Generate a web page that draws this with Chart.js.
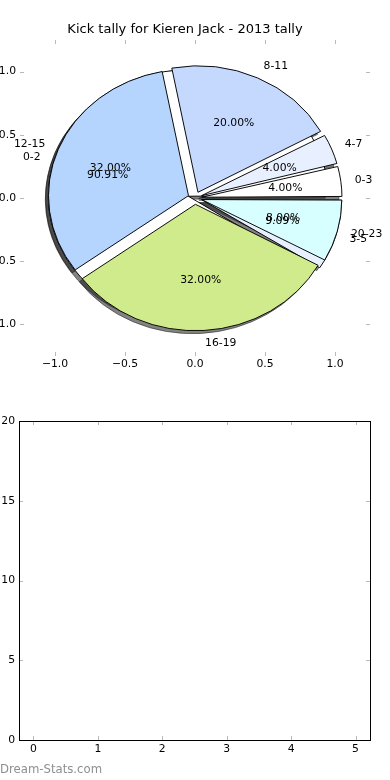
<!DOCTYPE html>
<html>
<head>
<meta charset="utf-8">
<script src="https://cdn.jsdelivr.net/npm/chart.js@4/dist/chart.umd.min.js"></script>
<style>
  html, body { margin: 0; padding: 0; background: #ffffff; }
  #wrap { position: relative; width: 390px; height: 780px; overflow: hidden; background: #fff; }
  #pieBack, #pieFront { position: absolute; left: 0; top: 0; }
  #bottom { position: absolute; left: 0; top: 400px; }
  #wm { position: absolute; left: 0; top: 762px; font: 11.7px "DejaVu Sans", sans-serif; color: #8f8f8f; white-space: nowrap; }
</style>
</head>
<body>
<div id="wrap">
  <canvas id="pieBack" width="390" height="400"></canvas>
  <canvas id="pieFront" width="390" height="400"></canvas>
  <canvas id="bottom" width="390" height="380"></canvas>
  <div id="wm">Dream-Stats.com</div>
</div>
<script>
// ---------------- data ----------------
const chartTitle = 'Kick tally for Kieren Jack - 2013 tally';
const tallyLabels = ['0-3', '4-7', '8-11', '12-15', '16-19', '20-23'];
const tallyValues = [1, 1, 5, 8, 8, 2];            // 4%, 4%, 20%, 32%, 32%, 8%
const tallyColors = ['#ffffff', '#e8f0ff', '#c5d9ff', '#b5d5ff', '#d0eb8c', '#d8ffff'];
const overlayLabels = ['0-2', '3-5'];
const overlayValues = [10, 1];                     // 90.91%, 9.09%
const overlayColors = ['#ffffff', '#e8f0ff'];
const pieTicks = [-1.0, -0.5, 0.0, 0.5, 1.0];
const barXTicks = [0, 1, 2, 3, 4, 5];
const barYTicks = [0, 5, 10, 15, 20];

// ---------------- layout / style ----------------
const FONT = '"DejaVu Sans", sans-serif';
const TICK_FONT = { family: FONT, size: 10.8 };
const PIE_MIN = -1.25, PIE_MAX = 1.25;
const PIE_AREA_W = 350;                       // chart area width in px
const R = PIE_AREA_W / (PIE_MAX - PIE_MIN);   // px per pie unit (radius 1)
const EXPLODE = 0.05;                         // explode distance in pie units
const OFFSET_OPT = EXPLODE * R * 4;           // Chart.js arc offset (drawn as offset/4)
const TICK_GRAY = '#b8b8b8';
const SHADOW_FAR = 10000;

function fmtPie(v) {
  return (v < 0 ? '\u2212' : '') + Math.abs(v).toFixed(1);
}

function yScaleRatio(chart) {
  const xs = chart.scales.x, ys = chart.scales.y;
  return (ys.getPixelForValue(0) - ys.getPixelForValue(1)) /
         (xs.getPixelForValue(1) - xs.getPixelForValue(0));
}

// Keep every slice at the nominal radius (Chart.js grows small exploded slices).
const radiusFix = {
  id: 'radiusFix',
  afterDatasetUpdate(chart, args) {
    const meta = chart.getDatasetMeta(args.index);
    const t = OFFSET_OPT / 4;
    meta.data.forEach(el => {
      const fix = 1 - Math.sin(Math.min(Math.PI, el.circumference || 0));
      el.outerRadius = R - t * fix;
    });
  }
};

function applyPieTransform(ctx, el, sy) {
  ctx.translate(el.x, el.y);
  ctx.scale(1, -sy);
  ctx.translate(-el.x, -el.y);
}

let frontChart = null;
let backChart = null;

// Elliptical, counter-clockwise pie (like the data-space pie).
// The back chart also paints the drop shadows of both pies, beneath every wedge.
const pieTransform = {
  id: 'pieTransform',
  beforeDatasetsDraw(chart, args, opts) {
    const meta = chart.getDatasetMeta(0);
    const el0 = meta.data[0];
    if (!el0) return;
    const sy = yScaleRatio(chart);
    const ctx = chart.ctx;
    if (opts.shadows) {
      const sets = [meta.data];
      if (frontChart) sets.push(frontChart.getDatasetMeta(0).data);
      ctx.save();
      ctx.translate(SHADOW_FAR, 0);
      applyPieTransform(ctx, el0, sy);
      ctx.shadowColor = 'rgba(30,30,30,0.55)';
      ctx.shadowOffsetX = -SHADOW_FAR - 3;
      ctx.shadowOffsetY = 3;
      ctx.shadowBlur = 0;
      sets.forEach(d => d.forEach(el => el.draw(ctx)));
      ctx.restore();
    }
    ctx.save();
    applyPieTransform(ctx, el0, sy);
  },
  afterDatasetsDraw(chart) {
    chart.ctx.restore();
  }
};

function drawInwardTicks(chart, xVals, yVals, color) {
  const ctx = chart.ctx, a = chart.chartArea;
  const xs = chart.scales.x, ys = chart.scales.y;
  ctx.save();
  ctx.strokeStyle = color;
  ctx.lineWidth = 1;
  ctx.beginPath();
  xVals.forEach(v => {
    const px = Math.round(xs.getPixelForValue(v)) + 0.5;
    ctx.moveTo(px, a.top); ctx.lineTo(px, a.top + 4);
    ctx.moveTo(px, a.bottom); ctx.lineTo(px, a.bottom - 4);
  });
  yVals.forEach(v => {
    const py = Math.round(ys.getPixelForValue(v)) + 0.5;
    ctx.moveTo(a.left, py); ctx.lineTo(a.left + 4, py);
    ctx.moveTo(a.right, py); ctx.lineTo(a.right - 4, py);
  });
  ctx.stroke();
  ctx.restore();
}

const pieTicksPlugin = {
  id: 'pieTicksPlugin',
  afterDraw(chart) { drawInwardTicks(chart, pieTicks, pieTicks, TICK_GRAY); }
};

function drawPieTexts(chart, meta, labels, values) {
  const ctx = chart.ctx;
  const sy = yScaleRatio(chart);
  const total = values.reduce((a, b) => a + b, 0);
  const t = OFFSET_OPT / 4;
  ctx.save();
  ctx.font = '10.8px ' + FONT;
  ctx.fillStyle = '#000';
  ctx.textBaseline = 'middle';
  meta.data.forEach((el, i) => {
    const mid = (el.startAngle + el.endAngle) / 2;
    const at = k => ({
      x: el.x + Math.cos(mid) * (t + k * R),
      y: el.y - Math.sin(mid) * (t + k * R) * sy
    });
    const lp = at(1.1);
    ctx.textAlign = lp.x > el.x ? 'left' : 'right';
    ctx.fillText(labels[i], lp.x, lp.y);
    const pp = at(0.6);
    ctx.textAlign = 'center';
    ctx.fillText((values[i] / total * 100).toFixed(2) + '%', pp.x, pp.y);
  });
  ctx.restore();
}

const pieTexts = {
  id: 'pieTexts',
  afterDraw(chart) {
    drawPieTexts(chart, chart.getDatasetMeta(0), tallyLabels, tallyValues);
    if (backChart) {
      drawPieTexts(chart, backChart.getDatasetMeta(0), overlayLabels, overlayValues);
    }
  }
};

function pieConfig(labels, values, colors, front) {
  const textColor = front ? '#000' : 'rgba(0,0,0,0)';
  return {
    type: 'pie',
    data: {
      labels: labels,
      datasets: [{
        data: values,
        backgroundColor: colors,
        borderColor: '#000',
        borderWidth: 1,
        offset: OFFSET_OPT,
        hoverOffset: OFFSET_OPT
      }]
    },
    options: {
      responsive: false,
      animation: false,
      events: [],
      rotation: 90,
      radius: R,
      layout: { padding: { left: 0, right: 20, top: 0, bottom: 0 } },
      plugins: {
        legend: { display: false },
        tooltip: { enabled: false },
        pieTransform: { shadows: !front },
        title: {
          display: true,
          text: chartTitle,
          color: textColor,
          font: { family: FONT, size: 13, weight: 'normal', lineHeight: 1.2 },
          padding: { top: 22, bottom: 2.4 }
        }
      },
      scales: {
        x: {
          type: 'linear', position: 'bottom', min: PIE_MIN, max: PIE_MAX,
          afterBuildTicks: s => { s.ticks = pieTicks.map(v => ({ value: v })); },
          afterFit: s => { s.height = 44; },
          grid: { display: false, drawTicks: false },
          border: { display: false },
          ticks: { color: textColor, font: TICK_FONT, padding: 2, maxRotation: 0, callback: v => fmtPie(v) }
        },
        y: {
          type: 'linear', position: 'left', min: PIE_MIN, max: PIE_MAX,
          afterBuildTicks: s => { s.ticks = pieTicks.map(v => ({ value: v })); },
          afterFit: s => { s.width = 20; },
          grid: { display: false, drawTicks: false },
          border: { display: false },
          ticks: { color: textColor, font: TICK_FONT, padding: 4, callback: v => fmtPie(v) }
        }
      }
    },
    plugins: front ? [radiusFix, pieTransform, pieTicksPlugin, pieTexts] : [radiusFix, pieTransform]
  };
}

frontChart = new Chart(document.getElementById('pieFront'),
  pieConfig(tallyLabels, tallyValues, tallyColors, true));
backChart = new Chart(document.getElementById('pieBack'),
  pieConfig(overlayLabels, overlayValues, overlayColors, false));
frontChart.draw();

// ---------------- bottom (empty) axes ----------------
const framePlugin = {
  id: 'framePlugin',
  afterDraw(chart) {
    drawInwardTicks(chart, barXTicks, barYTicks, TICK_GRAY);
    const ctx = chart.ctx, a = chart.chartArea;
    ctx.save();
    ctx.strokeStyle = '#000';
    ctx.lineWidth = 1;
    ctx.strokeRect(Math.round(a.left) + 0.5, Math.round(a.top) + 0.5,
                   Math.round(a.right - a.left), Math.round(a.bottom - a.top));
    ctx.restore();
  }
};

new Chart(document.getElementById('bottom'), {
  type: 'scatter',
  data: { datasets: [{ data: [] }] },
  options: {
    responsive: false,
    animation: false,
    events: [],
    layout: { padding: { left: 0, right: 20, top: 21, bottom: 0 } },
    plugins: { legend: { display: false }, tooltip: { enabled: false } },
    scales: {
      x: {
        type: 'linear', min: -0.225, max: 5.225,
        afterBuildTicks: s => { s.ticks = barXTicks.map(v => ({ value: v })); },
        afterFit: s => { s.height = 40; },
        grid: { display: false, drawTicks: false },
        border: { display: false },
        ticks: { color: '#000', font: TICK_FONT, padding: 3, maxRotation: 0 }
      },
      y: {
        type: 'linear', min: 0, max: 20,
        afterBuildTicks: s => { s.ticks = barYTicks.map(v => ({ value: v })); },
        afterFit: s => { s.width = 19; },
        grid: { display: false, drawTicks: false },
        border: { display: false },
        ticks: { color: '#000', font: TICK_FONT, padding: 4 }
      }
    }
  },
  plugins: [framePlugin]
});
</script>
</body>
</html>
